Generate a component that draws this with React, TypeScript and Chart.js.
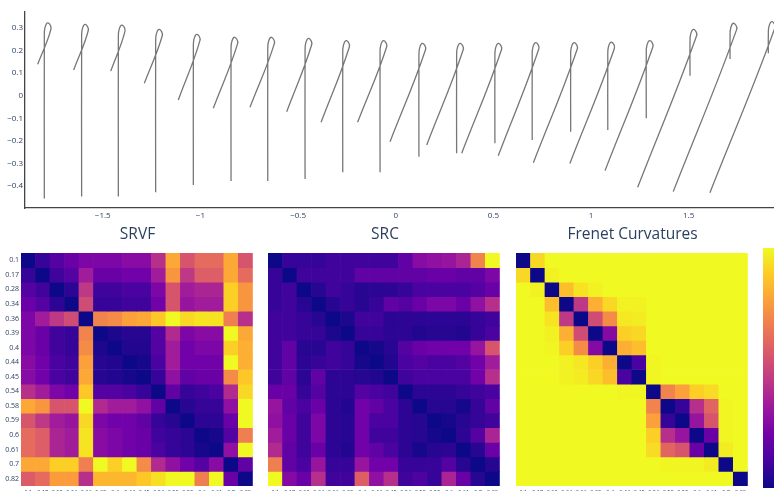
import React, { useEffect, useRef } from "react";
import { Chart, registerables } from "chart.js";
Chart.register(...registerables);

// ---- top panel: curves ----
const curveX = [-1.799, -1.608, -1.42, -1.229, -1.036, -0.843, -0.655, -0.464, -0.271, -0.08, 0.119, 0.312, 0.508, 0.699, 0.896, 1.086, 1.283, 1.507, 1.712, 1.908];
const curveStartX = [-1.833, -1.649, -1.459, -1.287, -1.113, -0.934, -0.746, -0.558, -0.382, -0.195, -0.029, 0.159, 0.338, 0.525, 0.705, 0.892, 1.072, 1.239, 1.421, 1.609];
const curveStartY = [0.139, 0.114, 0.109, 0.055, -0.019, -0.056, -0.051, -0.071, -0.118, -0.118, -0.204, -0.218, -0.255, -0.266, -0.297, -0.3, -0.332, -0.406, -0.425, -0.43];
const curveTopY = [0.323, 0.316, 0.313, 0.294, 0.272, 0.259, 0.259, 0.254, 0.244, 0.244, 0.232, 0.232, 0.232, 0.235, 0.235, 0.237, 0.244, 0.294, 0.321, 0.328];
const curveBottomY = [-0.455, -0.447, -0.447, -0.428, -0.396, -0.378, -0.378, -0.369, -0.339, -0.339, -0.27, -0.255, -0.211, -0.196, -0.16, -0.152, -0.1, 0.089, 0.163, 0.188];
// loop shape: right side, top, left side, join (relative to vertical stroke / loop top)
const loopDX = [0.034, 0.019, 0.003, 0];
const loopDY = [-0.027, 0, -0.022, -0.062];

const xTickVals = [-1.5, -1, -0.5, 0, 0.5, 1, 1.5];
const yTickVals = [-0.4, -0.3, -0.2, -0.1, 0, 0.1, 0.2, 0.3];

// ---- heatmaps ----
const cellLabels = ["0.1", "0.17", "0.28", "0.34", "0.36", "0.39", "0.4", "0.44", "0.45", "0.54", "0.58", "0.59", "0.6", "0.61", "0.7", "0.82"];
const panelTitles = ["SRVF", "SRC", "Frenet Curvatures"];

const srvf = [
  [0, 0.08, 0.15, 0.2, 0.25, 0.25, 0.25, 0.28, 0.28, 0.42, 0.8, 0.55, 0.62, 0.62, 0.8, 0.55],
  [0.08, 0, 0.1, 0.15, 0.35, 0.2, 0.2, 0.22, 0.22, 0.35, 0.75, 0.45, 0.58, 0.58, 0.8, 0.62],
  [0.15, 0.1, 0, 0.06, 0.45, 0.1, 0.1, 0.12, 0.12, 0.25, 0.55, 0.35, 0.38, 0.38, 0.9, 0.75],
  [0.2, 0.15, 0.06, 0, 0.52, 0.08, 0.08, 0.1, 0.1, 0.22, 0.55, 0.32, 0.35, 0.35, 0.9, 0.75],
  [0.25, 0.35, 0.45, 0.52, 0, 0.7, 0.72, 0.78, 0.8, 0.88, 1.0, 0.92, 0.95, 0.95, 0.68, 0.42],
  [0.25, 0.2, 0.1, 0.08, 0.7, 0, 0.03, 0.05, 0.05, 0.15, 0.4, 0.25, 0.28, 0.28, 1.0, 0.8],
  [0.25, 0.2, 0.1, 0.08, 0.72, 0.03, 0, 0.04, 0.04, 0.15, 0.35, 0.22, 0.25, 0.25, 0.9, 0.82],
  [0.28, 0.22, 0.12, 0.1, 0.78, 0.05, 0.04, 0, 0.02, 0.12, 0.35, 0.22, 0.22, 0.22, 1.0, 0.82],
  [0.28, 0.22, 0.12, 0.1, 0.8, 0.05, 0.04, 0.02, 0, 0.08, 0.3, 0.18, 0.2, 0.2, 0.72, 0.88],
  [0.42, 0.35, 0.25, 0.22, 0.88, 0.15, 0.15, 0.12, 0.08, 0, 0.18, 0.08, 0.1, 0.12, 0.4, 0.92],
  [0.8, 0.75, 0.55, 0.55, 1.0, 0.4, 0.35, 0.35, 0.3, 0.18, 0, 0.05, 0.08, 0.08, 0.3, 1.0],
  [0.55, 0.45, 0.35, 0.32, 0.92, 0.25, 0.22, 0.22, 0.18, 0.08, 0.05, 0, 0.06, 0.06, 0.2, 1.0],
  [0.62, 0.58, 0.38, 0.35, 0.95, 0.28, 0.25, 0.22, 0.2, 0.1, 0.08, 0.06, 0, 0.02, 0.15, 0.68],
  [0.62, 0.58, 0.38, 0.35, 0.95, 0.28, 0.25, 0.22, 0.2, 0.12, 0.08, 0.06, 0.02, 0, 0.3, 1.0],
  [0.8, 0.8, 0.9, 0.9, 0.68, 1.0, 0.9, 1.0, 0.72, 0.4, 0.3, 0.22, 0.15, 0.28, 0, 0.18],
  [0.57, 0.62, 0.77, 0.77, 0.42, 0.84, 0.84, 0.84, 0.88, 0.94, 1.0, 1.0, 0.68, 1.0, 0.2, 0],
];

const src = [
  [0, 0.08, 0.08, 0.08, 0.1, 0.1, 0.1, 0.1, 0.1, 0.18, 0.28, 0.3, 0.32, 0.38, 0.7, 1.0],
  [0.08, 0, 0.1, 0.1, 0.1, 0.1, 0.18, 0.18, 0.18, 0.18, 0.18, 0.2, 0.2, 0.18, 0.18, 0.25],
  [0.08, 0.1, 0, 0.05, 0.1, 0.08, 0.05, 0.06, 0.06, 0.08, 0.12, 0.12, 0.12, 0.12, 0.15, 0.2],
  [0.08, 0.1, 0.05, 0, 0.05, 0.08, 0.05, 0.08, 0.18, 0.15, 0.2, 0.25, 0.25, 0.2, 0.3, 0.42],
  [0.1, 0.1, 0.08, 0.05, 0, 0.03, 0.1, 0.1, 0.06, 0.06, 0.06, 0.06, 0.06, 0.06, 0.08, 0.1],
  [0.1, 0.1, 0.08, 0.08, 0.03, 0, 0.08, 0.08, 0.06, 0.06, 0.04, 0.05, 0.05, 0.04, 0.08, 0.12],
  [0.1, 0.18, 0.05, 0.05, 0.1, 0.08, 0, 0.02, 0.05, 0.15, 0.2, 0.22, 0.22, 0.22, 0.32, 0.55],
  [0.1, 0.18, 0.06, 0.08, 0.1, 0.08, 0.02, 0, 0.04, 0.12, 0.15, 0.12, 0.12, 0.15, 0.22, 0.35],
  [0.1, 0.18, 0.06, 0.18, 0.06, 0.06, 0.05, 0.04, 0, 0.1, 0.12, 0.12, 0.12, 0.12, 0.22, 0.42],
  [0.2, 0.2, 0.08, 0.15, 0.06, 0.06, 0.15, 0.12, 0.1, 0, 0.06, 0.06, 0.06, 0.08, 0.1, 0.12],
  [0.32, 0.18, 0.12, 0.2, 0.06, 0.04, 0.22, 0.18, 0.12, 0.06, 0, 0.05, 0.05, 0.02, 0.08, 0.18],
  [0.3, 0.2, 0.1, 0.25, 0.06, 0.05, 0.22, 0.12, 0.12, 0.06, 0.05, 0, 0.02, 0.05, 0.08, 0.1],
  [0.35, 0.2, 0.1, 0.25, 0.06, 0.05, 0.22, 0.1, 0.1, 0.06, 0.05, 0.02, 0, 0.06, 0.15, 0.38],
  [0.4, 0.18, 0.1, 0.2, 0.06, 0.04, 0.22, 0.18, 0.12, 0.06, 0.02, 0.05, 0.06, 0, 0.05, 0.2],
  [0.68, 0.18, 0.12, 0.32, 0.08, 0.08, 0.32, 0.22, 0.22, 0.08, 0.08, 0.08, 0.15, 0.05, 0, 0.05],
  [1.0, 0.27, 0.2, 0.42, 0.1, 0.1, 0.58, 0.3, 0.42, 0.1, 0.13, 0.08, 0.38, 0.2, 0.05, 0],
];

const frenet = [
  [0, 0.92, 1, 1, 1, 1, 1, 1, 1, 1, 1, 1, 1, 1, 1, 1],
  [0.92, 0, 0.98, 1, 1, 1, 1, 1, 1, 1, 1, 1, 1, 1, 1, 1],
  [1, 0.98, 0, 0.86, 0.95, 0.98, 1, 1, 1, 1, 1, 1, 1, 1, 1, 1],
  [1, 1, 0.86, 0, 0.45, 0.82, 0.92, 0.98, 0.98, 1, 1, 1, 1, 1, 1, 1],
  [1, 1, 0.95, 0.45, 0, 0.52, 0.72, 0.96, 0.97, 1, 1, 1, 1, 1, 1, 1],
  [1, 1, 0.98, 0.82, 0.52, 0, 0.27, 0.9, 0.92, 1, 1, 1, 1, 1, 1, 1],
  [1, 1, 0.99, 0.9, 0.72, 0.27, 0, 0.82, 0.86, 1, 1, 1, 1, 1, 1, 1],
  [1, 1, 1, 0.98, 0.96, 0.9, 0.82, 0, 0.12, 0.99, 1, 1, 1, 1, 1, 1],
  [1, 1, 1, 0.98, 0.97, 0.92, 0.86, 0.12, 0, 0.99, 1, 1, 1, 1, 1, 1],
  [1, 1, 1, 1, 1, 1, 1, 0.99, 0.99, 0, 0.7, 0.78, 0.9, 0.93, 1, 1],
  [1, 1, 1, 1, 1, 1, 1, 1, 1, 0.7, 0, 0.08, 0.42, 0.6, 0.99, 1],
  [1, 1, 1, 1, 1, 1, 1, 1, 1, 0.78, 0.08, 0, 0.32, 0.55, 0.99, 1],
  [1, 1, 1, 1, 1, 1, 1, 1, 1, 0.9, 0.42, 0.32, 0, 0.2, 0.99, 1],
  [1, 1, 1, 1, 1, 1, 1, 1, 1, 0.93, 0.6, 0.55, 0.2, 0, 0.97, 1],
  [1, 1, 1, 1, 1, 1, 1, 1, 1, 1, 0.99, 0.99, 0.99, 0.97, 0, 1],
  [1, 1, 1, 1, 1, 1, 1, 1, 1, 1, 1, 1, 1, 1, 1, 0],
];

const PLASMA = ["#0d0887", "#46039f", "#7201a8", "#9c179e", "#bd3786", "#d8576b", "#ed7953", "#fb9f3a", "#fdca26", "#f0f921"];

function hexToRgb(h: string) {
  return [parseInt(h.slice(1, 3), 16), parseInt(h.slice(3, 5), 16), parseInt(h.slice(5, 7), 16)];
}
function plasma(v: number) {
  const t = Math.max(0, Math.min(1, v)) * (PLASMA.length - 1);
  const i = Math.min(PLASMA.length - 2, Math.floor(t));
  const f = t - i;
  const a = hexToRgb(PLASMA[i]);
  const b = hexToRgb(PLASMA[i + 1]);
  const c = a.map((x, k) => Math.round(x + (b[k] - x) * f));
  return `rgb(${c[0]},${c[1]},${c[2]})`;
}

const FONT = "'Open Sans', 'DejaVu Sans', sans-serif";
const TEXT = "#2a3f5f";

const fmt = (v: number) => (v < 0 ? "\u2212" + String(Math.abs(v)) : String(v));

function CurvesChart() {
  const ref = useRef<HTMLCanvasElement>(null);
  useEffect(() => {
    const datasets = curveX.map((cx, i) => ({
      data: [
        { x: curveStartX[i], y: curveStartY[i] },
        ...loopDX.map((dx, k) => ({ x: cx + dx, y: curveTopY[i] + loopDY[k] })),
        { x: cx, y: curveBottomY[i] },
      ],
      borderColor: "#777777",
      borderWidth: 1.3,
      pointRadius: 0,
      tension: 0.4,
      fill: false,
    }));
    const chart = new Chart(ref.current!, {
      type: "line",
      data: { datasets } as any,
      options: {
        responsive: false,
        animation: false,
        events: [],
        layout: { padding: { top: 12, right: 0, left: 0, bottom: 0 } },
        plugins: { legend: { display: false }, tooltip: { enabled: false } },
        scales: {
          x: {
            type: "linear",
            min: -1.898,
            max: 1.937,
            grid: { display: false, drawTicks: false },
            border: { display: true, color: "#444", width: 1.3 },
            ticks: { font: { family: FONT, size: 8 }, color: TEXT, padding: 3, maxRotation: 0, callback: (v: any) => fmt(Number(v)) },
            afterBuildTicks: (s: any) => { s.ticks = xTickVals.map((v) => ({ value: v })); },
            afterFit: (s: any) => { s.height = 17; },
          },
          y: {
            type: "linear",
            min: -0.4976,
            max: 0.371,
            grid: { display: false, drawTicks: false },
            border: { display: true, color: "#444", width: 1.3 },
            ticks: { font: { family: FONT, size: 8 }, color: TEXT, padding: 2, callback: (v: any) => fmt(Number(v)) },
            afterBuildTicks: (s: any) => { s.ticks = yTickVals.map((v) => ({ value: v })); },
            afterFit: (s: any) => { s.width = 25; },
          },
        },
      } as any,
    });
    return () => chart.destroy();
  }, []);
  return <canvas ref={ref} width={774} height={225} style={{ position: "absolute", left: 0, top: 0, width: 774, height: 225 }} />;
}

function Heatmap({ z, left, width, showY, yWidth }: { z: number[][]; left: number; width: number; showY: boolean; yWidth: number }) {
  const ref = useRef<HTMLCanvasElement>(null);
  useEffect(() => {
    const chart = new Chart(ref.current!, {
      type: "bar",
      data: {
        labels: cellLabels,
        datasets: z.map((row, i) => ({
          label: cellLabels[i],
          data: row.map(() => 1),
          backgroundColor: row.map(plasma),
          borderWidth: 0,
        })),
      },
      options: {
        responsive: false,
        animation: false,
        events: [],
        datasets: { bar: { barPercentage: 1, categoryPercentage: 1 } },
        layout: { padding: { top: 10, right: 0, left: 0, bottom: 0 } },
        plugins: { legend: { display: false }, tooltip: { enabled: false } },
        scales: {
          x: {
            stacked: true,
            grid: { display: false, drawTicks: false },
            border: { display: false },
            ticks: { font: { family: FONT, size: 5.5 }, color: TEXT, padding: 3, maxRotation: 0, minRotation: 0, autoSkip: false },
            afterFit: (s: any) => { s.height = 19; },
          },
          y: {
            stacked: true,
            reverse: true,
            min: 0,
            max: 16,
            display: showY,
            grid: { display: false, drawTicks: false },
            border: { display: false },
            ticks: { font: { family: FONT, size: 7 }, color: TEXT, padding: 2, autoSkip: false, callback: (_v: any, i: number) => cellLabels[i] },
            afterBuildTicks: (s: any) => { s.ticks = cellLabels.map((_, i) => ({ value: i + 0.5 })); },
            afterFit: (s: any) => { s.width = yWidth; },
          },
        },
      } as any,
    });
    return () => chart.destroy();
  }, []);
  return <canvas ref={ref} width={width} height={262} style={{ position: "absolute", left, top: 243, width, height: 262 }} />;
}

const titleStyle = (center: number): React.CSSProperties => ({
  position: "absolute",
  top: 222,
  left: center - 100,
  width: 200,
  textAlign: "center",
  fontFamily: FONT,
  fontSize: 15.5,
  color: TEXT,
  whiteSpace: "nowrap",
});

export default function App() {
  const gradient = `linear-gradient(to top, ${PLASMA.join(", ")})`;
  return (
    <div style={{ position: "absolute", left: 0, top: 0, width: 774, height: 491, overflow: "hidden", background: "#fff" }}>
      <CurvesChart />
      <div style={titleStyle(137.5)}>{panelTitles[0]}</div>
      <div style={titleStyle(385)}>{panelTitles[1]}</div>
      <div style={titleStyle(632.5)}>{panelTitles[2]}</div>
      <Heatmap z={srvf} left={0} width={254} showY={true} yWidth={21} />
      <Heatmap z={src} left={268} width={233} showY={false} yWidth={0} />
      <Heatmap z={frenet} left={516} width={233} showY={false} yWidth={0} />
      <div style={{ position: "absolute", left: 763, top: 248, width: 30, height: 240, background: gradient }} />
    </div>
  );
}
